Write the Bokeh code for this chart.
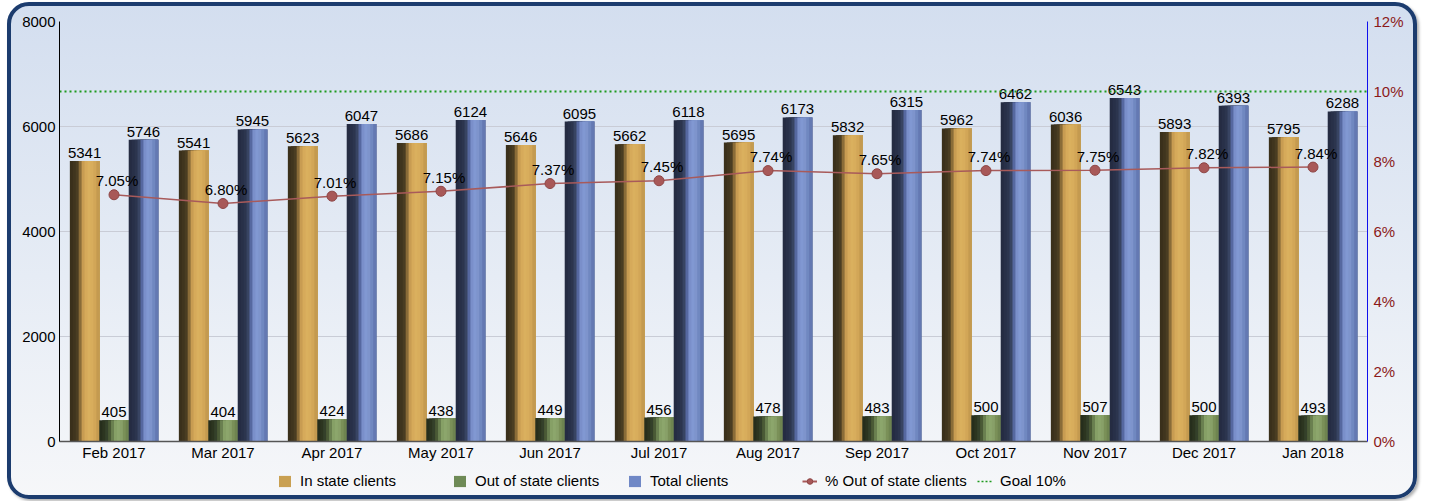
from bokeh.plotting import figure
from bokeh.layouts import column
from bokeh.models import (ColumnDataSource, FactorRange, Range1d, LinearAxis, FixedTicker,
                          PrintfTickFormatter, Legend, LegendItem)
from bokeh.core.properties import value
from bokeh.transform import dodge
from bokeh.embed import file_html
from bokeh.resources import INLINE

months = ["Feb 2017", "Mar 2017", "Apr 2017", "May 2017", "Jun 2017", "Jul 2017",
          "Aug 2017", "Sep 2017", "Oct 2017", "Nov 2017", "Dec 2017", "Jan 2018"]
in_state = [5341, 5541, 5623, 5686, 5646, 5662, 5695, 5832, 5962, 6036, 5893, 5795]
out_state = [405, 404, 424, 438, 449, 456, 478, 483, 500, 507, 500, 493]
total = [5746, 5945, 6047, 6124, 6095, 6118, 6173, 6315, 6462, 6543, 6393, 6288]
pct_out = [7.05, 6.80, 7.01, 7.15, 7.37, 7.45, 7.74, 7.65, 7.74, 7.75, 7.82, 7.84]
goal = 10
left_ticks = [0, 2000, 4000, 6000, 8000]
right_ticks = [0, 2, 4, 6, 8, 10, 12]

FONT = "Liberation Sans"

src = ColumnDataSource(dict(
    month=months, in_state=in_state, out_state=out_state, total=total,
    pct=pct_out,
    in_lbl=[str(v) for v in in_state],
    out_lbl=[str(v) for v in out_state],
    tot_lbl=[str(v) for v in total],
    pct_lbl=["%.2f%%" % v for v in pct_out],
))

W = 1410
p = figure(width=W, height=466, x_range=FactorRange(*months), y_range=Range1d(0, 8000),
           output_backend="svg", toolbar_location=None,
           min_border_left=52, min_border_right=50, min_border_top=19, min_border_bottom=27)
p.extra_y_ranges = {"pct": Range1d(0, 12)}
p.background_fill_alpha = 0
p.border_fill_alpha = 0
p.outline_line_color = None

# grid
p.xgrid.grid_line_color = None
p.ygrid.ticker = FixedTicker(ticks=left_ticks)
p.ygrid.grid_line_color = "#c9ccd6"
p.ygrid.grid_line_width = 1

def style_axis(ax, standoff, color="black"):
    ax.major_tick_line_color = None
    ax.minor_tick_line_color = None
    ax.major_tick_out = 0
    ax.major_tick_in = 0
    ax.minor_tick_out = 0
    ax.minor_tick_in = 0
    ax.major_label_standoff = standoff
    ax.major_label_text_font = FONT
    ax.major_label_text_font_size = "15px"
    ax.major_label_text_color = color

# axes
p.yaxis.ticker = FixedTicker(ticks=left_ticks)
p.yaxis.axis_line_color = "black"
style_axis(p.yaxis[0], 4)

p.xaxis.axis_line_color = "#555555"
p.xaxis.axis_line_width = 1.5
style_axis(p.xaxis[0], 2)

raxis = LinearAxis(y_range_name="pct", ticker=FixedTicker(ticks=right_ticks),
                   formatter=PrintfTickFormatter(format="%d%%"))
raxis.axis_line_color = "#1010ee"
style_axis(raxis, 6, "#8b1a1a")
p.add_layout(raxis, "right")

# shaded (cylinder-like) bars built from vertical strips
gold = ["#3a301b", "#40351e", "#4a3d22", "#8a6c38", "#c89c52",
        "#d6aa5a", "#dab05e", "#d8ad5c", "#d2a657", "#c49a50"]
green = ["#262e1c", "#2c3520", "#34402a", "#4a5a36", "#6a8050",
         "#86a066", "#8ca66c", "#88a068", "#7a9058", "#6e8450"]
blue = ["#252c42", "#283048", "#2c354e", "#384462", "#5668a0",
        "#7a8fca", "#8198d2", "#7e94cc", "#7088c0", "#6479b2"]

BW = 0.27
N = len(gold)
sw = BW / N
for col, center, pal in (("in_state", -0.27, gold), ("out_state", 0.0, green), ("total", 0.27, blue)):
    right = center + BW / 2
    for i, c in enumerate(pal):
        left = center - BW / 2 + sw * i
        p.vbar(x=dodge("month", (left + right) / 2, range=p.x_range), top=col, width=right - left,
               source=src, fill_color=c, line_color=None)

# value labels
for col, lbl, center in (("in_state", "in_lbl", -0.27), ("out_state", "out_lbl", 0.0), ("total", "tot_lbl", 0.27)):
    p.text(x=dodge("month", center, range=p.x_range), y=col, text=lbl, source=src,
           text_align="center", text_baseline="bottom", y_offset=-3,
           text_font=value(FONT), text_font_size="15px", text_color="black")

# goal line
p.hspan(y=[goal], y_range_name="pct", line_color="#1e9a1e", line_width=2, line_dash="2 3")

# percentage line
p.line(x="month", y="pct", source=src, y_range_name="pct", line_color="#a85a5a", line_width=1.5)
p.scatter(x="month", y="pct", source=src, y_range_name="pct", size=10,
          fill_color="#a85858", line_color="#8e4646")
p.text(x="month", y="pct", text="pct_lbl", source=src, y_range_name="pct",
       text_align="center", text_baseline="alphabetic", x_offset=3, y_offset=-14,
       text_font=value(FONT), text_font_size="15px", text_color="black")

# ---- legend strip (separate small figure below the chart) ----
lg = figure(width=W, height=31, x_range=FactorRange(*months), y_range=Range1d(0, 1),
            output_backend="svg", toolbar_location=None, min_border=0,
            x_axis_type=None, y_axis_type=None)
lg.background_fill_alpha = 0
lg.border_fill_alpha = 0
lg.outline_line_color = None
lg.grid.visible = False
lg.extra_y_ranges = {"hidden": Range1d(100000, 200000)}
# renderers used only for their legend glyphs (their data lie outside the visible range)
r_in = lg.vbar(x="month", top="in_state", width=0.2, source=src, y_range_name="hidden",
               fill_color="#c9a052", line_color=None)
r_out = lg.vbar(x="month", top="out_state", width=0.2, source=src, y_range_name="hidden",
                fill_color="#6e8a56", line_color=None)
r_tot = lg.vbar(x="month", top="total", width=0.2, source=src, y_range_name="hidden",
                fill_color="#7088c6", line_color=None)
r_pl = lg.line(x="month", y="pct", source=src, y_range_name="hidden", line_color="#a85a5a", line_width=2)
r_ps = lg.scatter(x="month", y="pct", source=src, y_range_name="hidden", size=10,
                  fill_color="#a85858", line_color="#8e4646")
r_goal = lg.line(x="month", y="pct", source=src, y_range_name="hidden",
                 line_color="#1e9a1e", line_width=1.5, line_dash="2 2")

legend = Legend(items=[
    LegendItem(label="In state clients", renderers=[r_in]),
    LegendItem(label="Out of state clients", renderers=[r_out]),
    LegendItem(label="Total clients", renderers=[r_tot]),
    LegendItem(label="% Out of state clients", renderers=[r_pl, r_ps]),
    LegendItem(label="Goal 10%", renderers=[r_goal]),
], orientation="horizontal", location=(218, 10))
legend.background_fill_alpha = 0
legend.border_line_color = None
legend.label_text_font = FONT
legend.label_text_font_size = "15px"
legend.label_text_color = "black"
legend.glyph_width = 15
legend.glyph_height = 14
legend.label_standoff = 8
legend.label_width = 146
legend.spacing = 6
legend.padding = 2
legend.margin = 0
lg.add_layout(legend, "center")

layout = column(p, lg, spacing=0)
layout.styles = {
    "margin-left": "7px",
    "margin-top": "2px",
    "background": "linear-gradient(to bottom, #d3deef 0%, #e6ecf5 55%, #f6f7f9 100%)",
    "border-radius": "22px",
    "outline": "4px solid #1c3c6e",
    "outline-offset": "-4px",
    "box-shadow": "2px 2px 3px #b0b0b0",
}

open("out.html", "w").write(file_html(layout, INLINE))
